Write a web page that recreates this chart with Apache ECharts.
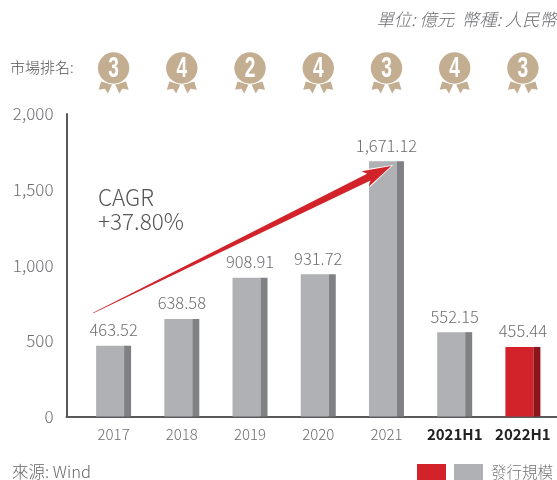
<!DOCTYPE html>
<html><head><meta charset="utf-8">
<style>html,body{margin:0;padding:0;background:#fff}#c{width:557px;height:480px}</style>
<script src="https://cdn.jsdelivr.net/npm/echarts@6/dist/echarts.min.js"></script>
</head><body><div id="c"></div>
<script>
var categories = ['2017','2018','2019','2020','2021','2021H1','2022H1'];
var values = [463.52,638.58,908.91,931.72,1671.12,552.15,455.44];
var ranks = [3,4,2,4,3,4,3];
var boldCategories = ['2021H1','2022H1'];
var highlightCategory = '2022H1';
var yTicks = {min:0,max:2000,interval:500};
var arrowFrom = [-0.3,678];
var arrowTo = [4.07,1640];

var FONT = '"Noto Sans CJK TC","Noto Sans",sans-serif';
var GREY='#6d6e71';
var chart = echarts.init(document.getElementById('c'),null,{renderer:'canvas'});

function isHi(p){return categories[p.dataIndex]===highlightCategory;}

function medal(params,api){
  var x=api.coord([api.value(0),0])[0], y=68, gold='#c4ae91';
  function rib(s){return {type:'polygon',shape:{points:[[-12.5,13.5],[-1.5,16.5],[-5.7,25.5],[-8.7,20.7],[-15,21.7]].map(function(p){return [x+s*p[0],y+p[1]];})},style:{fill:gold}};}
  return {type:'group',children:[
    rib(1),rib(-1),
    {type:'circle',shape:{cx:x,cy:y,r:16.5},style:{fill:'#fff'}},
    {type:'circle',shape:{cx:x,cy:y,r:15.7},style:{fill:gold}},
    {type:'text',x:x,y:y+0.5,scaleX:0.66,style:{text:String(api.value(1)),x:0,y:0,align:'center',verticalAlign:'middle',fill:'#fff',
      font:'bold 29px "Liberation Sans",sans-serif'}}
  ]};
}
function arrow(params,api){
  var a=api.coord(arrowFrom), b=api.coord(arrowTo);
  var dx=b[0]-a[0], dy=b[1]-a[1], L=Math.sqrt(dx*dx+dy*dy), ux=dx/L, uy=dy/L, nx=-uy, ny=ux;
  function pt(d,w){return [b[0]-ux*d+nx*w,b[1]-uy*d+ny*w];}
  function shape(g,t){return [pt(L,t+g*0.2),pt(25,3.8+g),pt(29,8.5+g),pt(-g*1.8,0),pt(29,-8.5-g),pt(25,-3.8-g),pt(L,-t-g*0.2)];}
  return {type:'group',children:[
    {type:'polygon',shape:{points:shape(1.2,0.3)},style:{fill:'#fff'}},
    {type:'polygon',shape:{points:shape(0,0.3)},style:{fill:'#d2232a'}}
  ]};
}

chart.setOption({
  animation:false,
  backgroundColor:'#fff',
  textStyle:{fontFamily:FONT},
  grid:[
    {left:66.5,right:0,top:114,bottom:63.5},
    {left:79.5,right:-0.8,top:111,bottom:63.5}
  ],
  xAxis:[
    {gridIndex:0,type:'category',data:[''],axisTick:{show:false},axisLabel:{show:false},
      axisLine:{lineStyle:{color:'#5a5a5c',width:2}}},
    {gridIndex:1,type:'category',data:categories.map(function(c){
        var b=boldCategories.indexOf(c)>=0;
        return {value:c,textStyle:b?{color:'#222',fontWeight:'bold'}:{color:GREY,fontWeight:300}};
      }),
      axisTick:{show:false},axisLine:{show:false},
      axisLabel:{fontSize:15,margin:10,fontFamily:FONT,interval:0}},
    {gridIndex:1,type:'value',min:-0.5,max:6.5,show:false}
  ],
  yAxis:[
    {gridIndex:0,type:'value',min:yTicks.min,max:yTicks.max,interval:yTicks.interval,
      splitLine:{show:false},axisTick:{show:false},
      axisLine:{show:true,lineStyle:{color:'#5a5a5c',width:2}},
      axisLabel:{fontSize:17,color:GREY,margin:13,fontWeight:300,fontFamily:FONT,
        formatter:function(v){return v.toLocaleString('en-US');}}},
    {gridIndex:1,type:'value',min:yTicks.min,max:yTicks.max,interval:yTicks.interval,show:false}
  ],
  series:[
    {type:'bar',name:'發行規模',xAxisIndex:1,yAxisIndex:1,data:values,barWidth:28,barGap:'0%',
      itemStyle:{color:function(p){return isHi(p)?'#d2232a':'#b0b1b5';}}},
    {type:'bar',name:'side',xAxisIndex:1,yAxisIndex:1,data:values,barWidth:7,barGap:'0%',
      itemStyle:{color:function(p){return isHi(p)?'#8b151b':'#808184';}}},
    {type:'line',xAxisIndex:1,yAxisIndex:1,data:values,symbol:'circle',symbolSize:1,
      itemStyle:{color:'rgba(0,0,0,0)'},lineStyle:{opacity:0},z:5,
      label:{show:true,position:'top',distance:7,fontSize:16.5,color:GREY,fontWeight:300,fontFamily:FONT,
        formatter:function(p){return p.value.toLocaleString('en-US',{minimumFractionDigits:2});}}},
    {type:'custom',xAxisIndex:1,yAxisIndex:1,clip:false,z:6,
      data:ranks.map(function(r,i){return [i,r];}),renderItem:medal,encode:{x:0,y:-1}},
    {type:'custom',xAxisIndex:2,yAxisIndex:1,clip:false,z:7,data:[[0,0]],renderItem:arrow,encode:{x:0,y:-1}}
  ],
  graphic:[
    {type:'text',right:0,top:11,style:{text:'單位: 億元  幣種: 人民幣',font:'italic 300 17.4px '+FONT,fill:'#6d6e71'}},
    {type:'text',left:10,top:60,style:{text:'市場排名:',font:'300 15px '+FONT,fill:'#555'}},
    {type:'text',left:98,top:186,style:{text:'CAGR',font:'300 22.5px '+FONT,fill:'#555'}},
    {type:'text',left:98,top:210,style:{text:'+37.80%',font:'300 22.5px '+FONT,fill:'#555'}},
    {type:'text',left:12,top:463,style:{text:'來源: Wind',font:'300 16.5px '+FONT,fill:'#666'}},
    {type:'rect',left:417,top:464,shape:{width:29,height:16},style:{fill:'#d2232a'}},
    {type:'rect',left:454,top:464,shape:{width:29,height:16},style:{fill:'#b0b1b5'}},
    {type:'text',left:491,top:464,style:{text:'發行規模',font:'300 15.5px '+FONT,fill:'#777'}}
  ]
});
</script></body></html>
